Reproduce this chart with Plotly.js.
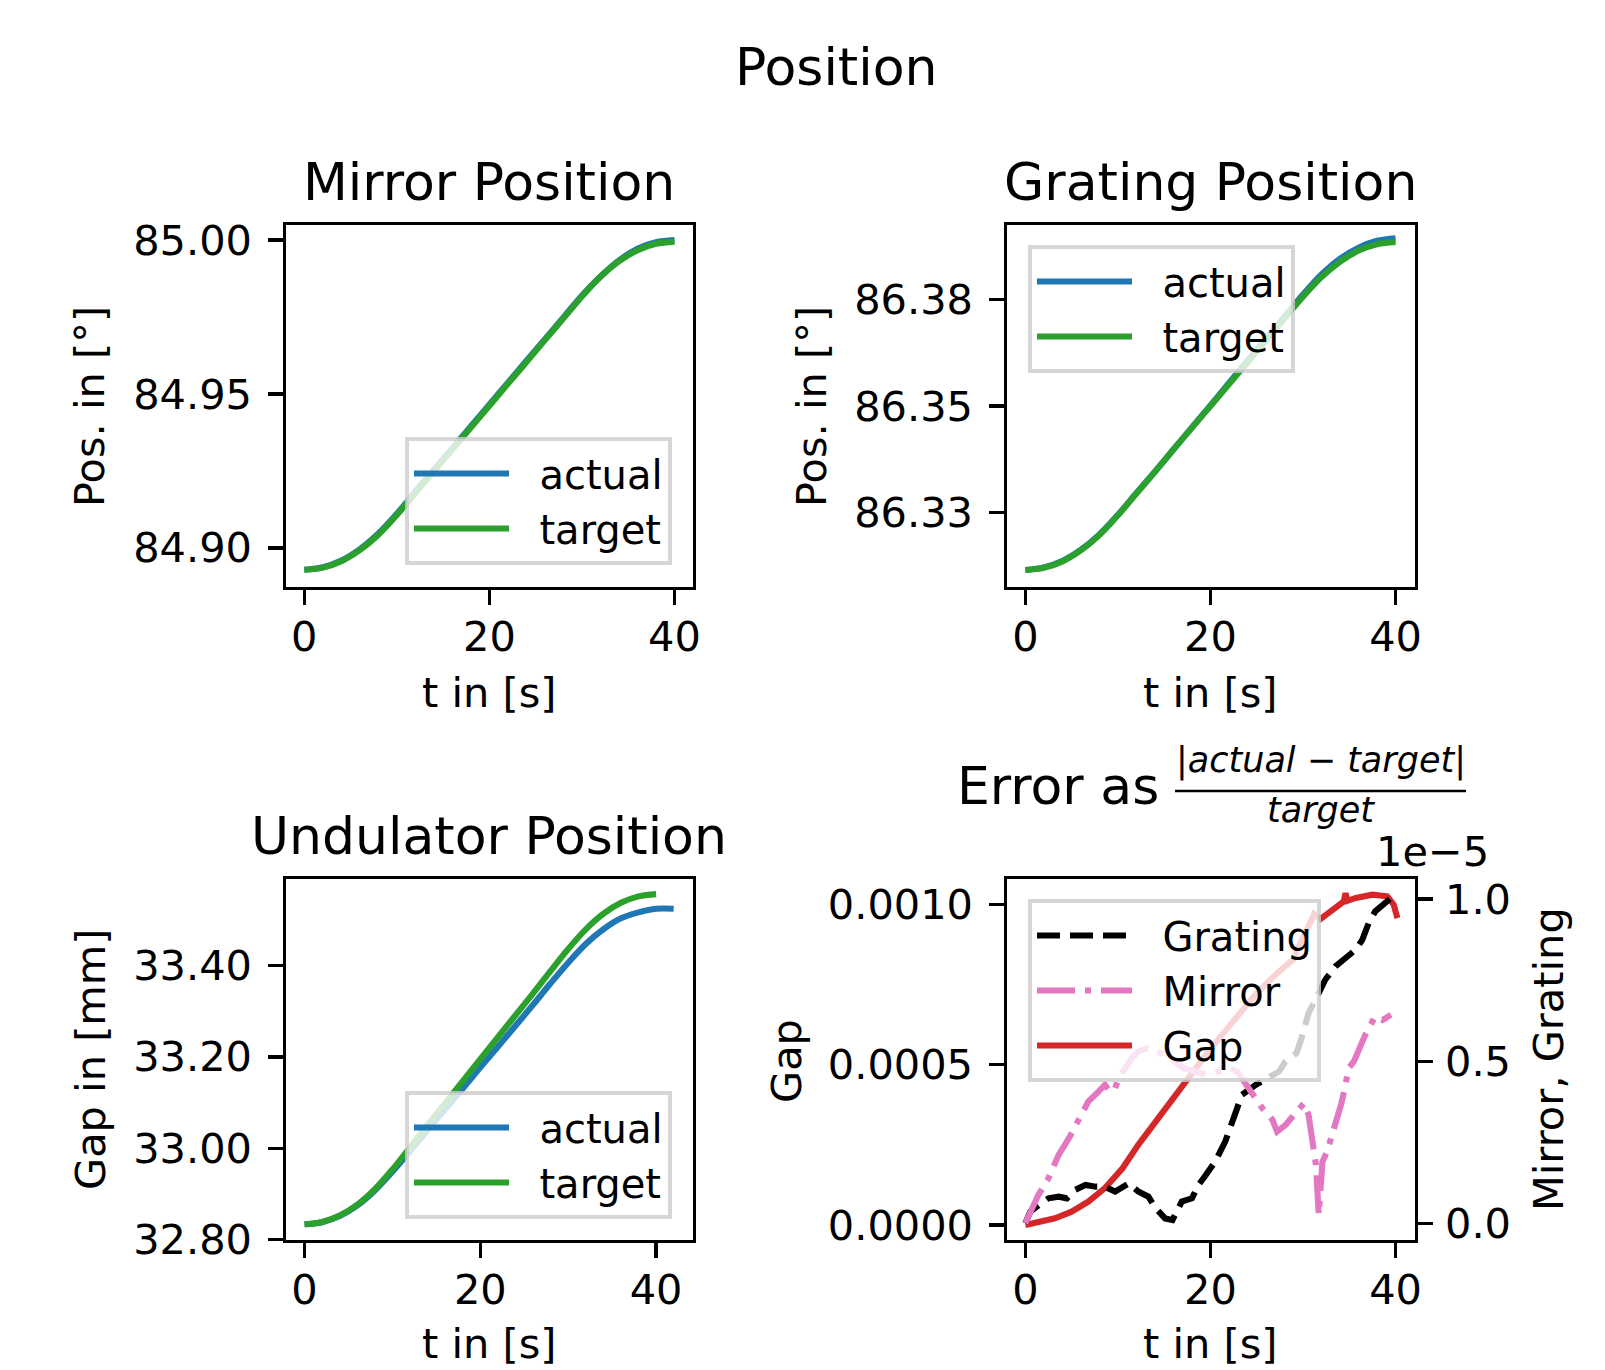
<!DOCTYPE html>
<html><head><meta charset="utf-8">
<script src="https://cdn.plot.ly/plotly-3.0.1.min.js"></script>
<style>html,body{margin:0;padding:0;background:#fff}</style>
</head><body><div id="chart" style="width:1605px;height:1370px"></div>
<script>
// ---------- data ----------
const tTarget = [0,2,4,6,8,10,12,14,16,18,20,22,24,26,28,30,32,34,36,38,40];
const tUndActual = [0,2,4,6,8,10,12,14,16,18,20,22,24,26,28,30,32,34,36,38,40,42];

const mirrorTarget = [84.8929,84.8936,84.8957,84.8993,84.9043,84.9107,84.9178,84.9249,84.9320,84.9391,84.9462,84.9533,84.9604,84.9675,84.9746,84.9817,84.9881,84.9931,84.9967,84.9988,84.9995];
const mirrorActual = [84.8929,84.8937,84.8959,84.8996,84.9047,84.9111,84.9183,84.9254,84.9324,84.9395,84.9466,84.9537,84.9608,84.9678,84.9749,84.9820,84.9882,84.9934,84.9972,84.9993,85.0000];

const gratingTarget = [86.3116,86.3121,86.3136,86.3162,86.3198,86.3244,86.3295,86.3346,86.3398,86.3449,86.3500,86.3551,86.3602,86.3654,86.3705,86.3756,86.3802,86.3838,86.3864,86.3879,86.3884];
const gratingActual = [86.3116,86.3122,86.3137,86.3163,86.3199,86.3245,86.3296,86.3346,86.3398,86.3450,86.3501,86.3554,86.3606,86.3658,86.3709,86.3761,86.3808,86.3845,86.3871,86.3887,86.3893];

const undTarget = [32.834,32.839,32.853,32.877,32.911,32.954,33.002,33.051,33.099,33.147,33.195,33.243,33.291,33.339,33.388,33.436,33.479,33.513,33.537,33.551,33.556];
const undActual = [32.834,32.8386,32.852,32.875,32.908,32.949,32.994,33.040,33.086,33.131,33.177,33.222,33.268,33.314,33.361,33.406,33.447,33.479,33.503,33.516,33.524,33.524];

// relative errors
const tGapErr = [0,1.4,3.2,5.0,6.8,8.6,10.5,12.2,14.1,15.9,17.7,19.5,21.4,23.2,25.0,27.2,29.0,29.4,30.4,31.2,31.9,33.2,34.4,34.6,34.8,35.7,37.5,39.1,39.8,40.2];
const gapErr = [0,0.0000103,0.000021,0.0000416,0.0000728,0.000115,0.000177,0.00025,0.000323,0.000396,0.000469,0.000531,0.000599,0.000661,0.000724,0.000786,0.000830,0.00086,0.00092,0.00097,0.000955,0.000984,0.00101,0.001036,0.001012,0.001021,0.001031,0.001026,0.001,0.000958];

// Grating / Mirror errors in units of 1e-5
const tGratingErr = [0,0.54,1.44,2.5,3.6,4.5,5.4,6.5,7.6,8.6,9.7,11.2,12.2,13.3,14.1,15.1,15.9,16.9,18.0,18.7,19.5,20.5,21.6,22.7,23.4,24.9,26.3,27.4,28.1,28.8,29.3,29.9,30.6,31.7,32.4,33.5,34.6,35.7,36.4,37.1,37.8,38.9,39.8];
const gratingErr = [0,0.036,0.056,0.077,0.082,0.077,0.103,0.118,0.113,0.113,0.098,0.123,0.098,0.082,0.046,0.015,0.010,0.067,0.077,0.118,0.149,0.19,0.252,0.334,0.396,0.427,0.452,0.468,0.499,0.512,0.525,0.576,0.648,0.71,0.751,0.792,0.818,0.844,0.874,0.926,0.962,0.988,1.010];

const tMirrorErr = [0,0.7,1.4,2.5,3.6,4.7,5.8,6.8,7.9,8.6,9.2,9.7,10.1,10.8,11.5,12.2,13.2,14.6,15.9,17.1,18.6,19.6,20.9,22.0,22.9,23.6,24.5,25.6,26.7,27.2,28.1,29.0,30.1,30.6,31.0,31.4,31.7,32.1,32.6,33.3,34.1,34.6,34.9,35.5,36.8,37.8,38.6,39.5];
const mirrorErr = [0,0.046,0.087,0.139,0.211,0.262,0.324,0.375,0.406,0.427,0.405,0.417,0.448,0.478,0.509,0.53,0.54,0.525,0.504,0.478,0.468,0.458,0.468,0.478,0.468,0.437,0.396,0.355,0.319,0.283,0.303,0.334,0.370,0.334,0.241,0.180,0.026,0.19,0.221,0.283,0.365,0.427,0.478,0.499,0.586,0.638,0.627,0.643];

const xTicks = [0,20,40];
const mirrorTicks = [84.90,84.95,85.00];
const gratingTicks = [86.325,86.350,86.375];
const gratingTickText = ['86.33','86.35','86.38'];
const undTicks = [32.80,33.00,33.20,33.40];
const gapTicks = [0,0.0005,0.0010];
const relTicks = [0,0.5,1.0];

// ---------- layout helpers ----------
const W = 1605, H = 1370;
const X = p => p / W;
const Y = p => 1 - p / H;
const F = 'DejaVu Sans';
const BLUE = '#1f77b4', GREEN = '#2ca02c', RED = '#d62728', PINK = '#e377c2';
const LW = 6.1;
const SP = '\u00a0\u00a0';

const axBase = {
  showline: true, mirror: true, linecolor: '#000', linewidth: 3.3,
  ticks: 'outside', ticklen: 14.4, tickwidth: 3.3, tickcolor: '#000',
  showgrid: false, zeroline: false, fixedrange: true,
  tickfont: {family: F, size: 41.5, color: '#000'}, ticklabelstandoff: 8
};
const ax = o => Object.assign({}, axBase, o);
const xax = o => Object.assign({}, axBase, {ticklabelstandoff: -4}, o);

const traces = [
  {x: tTarget, y: mirrorActual, xaxis: 'x', yaxis: 'y', name: SP + 'actual', legend: 'legend', mode: 'lines', line: {color: BLUE, width: LW, shape: 'spline'}},
  {x: tTarget, y: mirrorTarget, xaxis: 'x', yaxis: 'y', name: SP + 'target', legend: 'legend', mode: 'lines', line: {color: GREEN, width: LW, shape: 'spline'}},
  {x: tTarget, y: gratingActual, xaxis: 'x2', yaxis: 'y2', name: SP + 'actual', legend: 'legend2', mode: 'lines', line: {color: BLUE, width: LW, shape: 'spline'}},
  {x: tTarget, y: gratingTarget, xaxis: 'x2', yaxis: 'y2', name: SP + 'target', legend: 'legend2', mode: 'lines', line: {color: GREEN, width: LW, shape: 'spline'}},
  {x: tUndActual, y: undActual, xaxis: 'x3', yaxis: 'y3', name: SP + 'actual', legend: 'legend3', mode: 'lines', line: {color: BLUE, width: LW, shape: 'spline'}},
  {x: tTarget, y: undTarget, xaxis: 'x3', yaxis: 'y3', name: SP + 'target', legend: 'legend3', mode: 'lines', line: {color: GREEN, width: LW, shape: 'spline'}},
  {x: tGratingErr, y: gratingErr, xaxis: 'x4', yaxis: 'y5', name: SP + 'Grating', legend: 'legend4', mode: 'lines', line: {color: '#000', width: LW, dash: '23px,10px'}},
  {x: tMirrorErr, y: mirrorErr, xaxis: 'x4', yaxis: 'y5', name: SP + 'Mirror', legend: 'legend4', mode: 'lines', line: {color: PINK, width: LW, dash: '38px,10px,6px,10px'}},
  {x: tGapErr, y: gapErr, xaxis: 'x4', yaxis: 'y4', name: SP + 'Gap', legend: 'legend4', mode: 'lines', line: {color: RED, width: LW}}
];

const legBase = {
  bgcolor: 'rgba(255,255,255,0.8)', bordercolor: 'rgba(204,204,204,0.8)', borderwidth: 4,
  font: {family: F, size: 40, color: '#000'}, itemwidth: 95, tracegroupgap: 0
};
const leg = o => Object.assign({}, legBase, o);

const ann = (text, x, y, o) => Object.assign({text, x: X(x), y: Y(y), xref: 'paper', yref: 'paper', showarrow: false,
  font: {family: F, size: 41.5, color: '#000'}, xanchor: 'center', yanchor: 'middle'}, o || {});
const TF = {family: F, size: 52, color: '#000'};

const layout = {
  width: W, height: H, margin: {l: 0, r: 0, t: 0, b: 0},
  paper_bgcolor: '#fff', plot_bgcolor: '#fff', showlegend: true,
  xaxis:  xax({domain: [X(286), X(693)], anchor: 'y', range: [-1.98, 42.0], tickvals: xTicks}),
  yaxis:  ax({domain: [Y(587), Y(225)], anchor: 'x', range: [84.8873, 85.0049], tickvals: mirrorTicks, tickformat: '.2f'}),
  xaxis2: xax({domain: [X(1007), X(1415)], anchor: 'y2', range: [-1.98, 42.1], tickvals: xTicks}),
  yaxis2: ax({domain: [Y(587), Y(225)], anchor: 'x2', range: [86.3076, 86.3924], tickvals: gratingTicks, ticktext: gratingTickText}),
  xaxis3: xax({domain: [X(286), X(693)], anchor: 'y3', range: [-2.11, 44.2], tickvals: xTicks}),
  yaxis3: ax({domain: [Y(1240), Y(879)], anchor: 'x3', range: [32.7996, 33.589], tickvals: undTicks, tickformat: '.2f'}),
  xaxis4: xax({domain: [X(1007), X(1415)], anchor: 'y4', range: [-1.98, 42.1], tickvals: xTicks}),
  yaxis4: ax({domain: [Y(1240), Y(879)], anchor: 'x4', range: [-0.0000469, 0.00108], tickvals: gapTicks, tickformat: '.4f'}),
  yaxis5: ax({overlaying: 'y4', side: 'right', anchor: 'x4', mirror: false, ticklabelstandoff: 4, range: [-0.0515, 1.0617], tickvals: relTicks, tickformat: '.1f'}),
  legend:  leg({x: X(672), xanchor: 'right', y: Y(565), yanchor: 'bottom'}),
  legend2: leg({x: X(1028), xanchor: 'left', y: Y(245), yanchor: 'top'}),
  legend3: leg({x: X(672), xanchor: 'right', y: Y(1219), yanchor: 'bottom'}),
  legend4: leg({x: X(1028), xanchor: 'left', y: Y(899), yanchor: 'top'}),
  annotations: [
    ann('Position', 835.8, 67.5, {font: TF}),
    ann('Mirror Position', 489, 182, {font: TF}),
    ann('Grating Position', 1210, 182, {font: TF}),
    ann('Undulator Position', 489, 836, {font: TF}),
    ann('Error as', 955, 786, {font: TF, xanchor: 'left'}),
    ann('<i>|actual − target|</i>', 1320.5, 760, {font: {family: F, size: 35, color: '#000'}}),
    ann('<i>target</i>', 1320.5, 810, {font: {family: F, size: 35, color: '#000'}}),
    ann('1e−5', 1491, 851, {xanchor: 'right'}),
    ann('t in [s]', 489, 693),
    ann('t in [s]', 1210, 693),
    ann('t in [s]', 489, 1343),
    ann('t in [s]', 1210, 1343),
    ann('Pos. in [°]', 90, 407, {textangle: -90}),
    ann('Pos. in [°]', 812, 407, {textangle: -90}),
    ann('Gap in [mm]', 90, 1060, {textangle: -90}),
    ann('Gap', 786, 1061, {textangle: -90}),
    ann('Mirror, Grating', 1548, 1059, {textangle: -90})
  ],
  shapes: [
    {type: 'line', xref: 'paper', yref: 'paper', x0: X(1175), x1: X(1466), y0: Y(791), y1: Y(791), line: {color: '#000', width: 2.5}}
  ]
};

Plotly.newPlot('chart', traces, layout, {staticPlot: true, displayModeBar: false});
</script></body></html>
